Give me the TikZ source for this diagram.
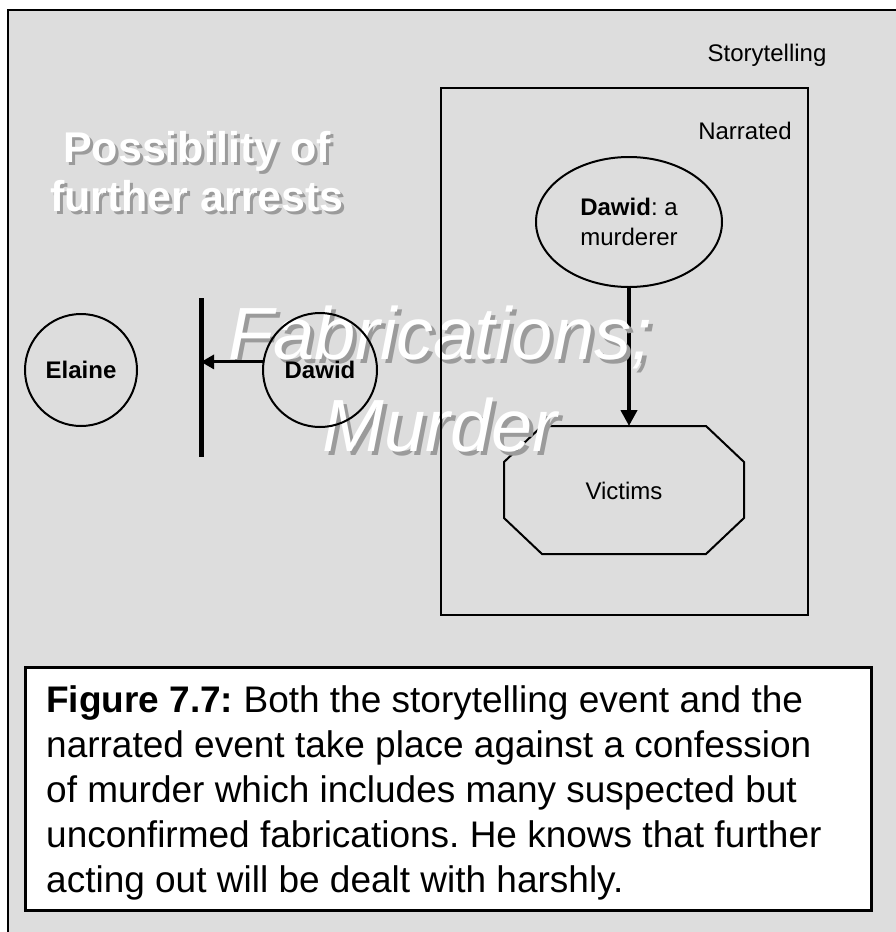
\documentclass[tikz,border=0pt]{standalone}
\usepackage{fontspec}
\setmainfont{Liberation Sans}
\usetikzlibrary{arrows.meta,shapes.geometric}
\definecolor{bg}{RGB}{221,221,221}
\definecolor{shade}{RGB}{155,155,155}
\frenchspacing
\begin{document}
\begin{tikzpicture}[x=1pt,y=-1pt,
  lbl/.style={font=\fontsize{24}{30}\selectfont, align=center, inner sep=0},
  person/.style={circle, draw, line width=2pt, inner sep=0, font=\fontsize{24}{30}\selectfont\bfseries},
  outl/.style={draw, line width=2pt},
  conn/.style={line width=3pt, -{Triangle[length=13pt,width=14pt]}},
  bigconn/.style={line width=4.5pt, -{Triangle[length=16pt,width=16pt]}},
  shadowtext/.style={text=shade, inner sep=0, align=center},
  whitetext/.style={text=white, inner sep=0, align=center}]
\useasboundingbox (0,0) rectangle (896,932);
\clip (0,0) rectangle (896,932);
\fill[white] (0,0) rectangle (896,932);
% outer storytelling frame
\draw[line width=2.5pt, fill=bg] (8,10) rectangle (920,960);
\node[lbl] (story) at (767,55) {Storytelling};

% octagon (victims)
\coordinate (octtop) at (624,426);
\draw[outl] (542,426) -- (706,426) -- (744,462) -- (744,518) -- (706,554) -- (542,554) -- (504,518) -- (504,462) -- cycle;
\node[lbl] (victims) at (624,491) {Victims};

% ellipse
\node[ellipse, outl, minimum width=186pt, minimum height=130pt, inner sep=0,
      font=\fontsize{24}{30}\selectfont, align=center] (dm) at (629,222) {\textbf{Dawid}: a\\murderer};
\draw[bigconn] (dm.south) -- (dm.south |- octtop);

% background texts with shadow
\node[shadowtext, font=\fontsize{43}{49}\selectfont\bfseries] at (200,175) {Possibility of\\further arrests};
\node[whitetext, font=\fontsize{43}{49}\selectfont\bfseries] (poss) at (197,172) {Possibility of\\further arrests};
\node[shadowtext, font=\fontsize{74}{92}\selectfont\itshape] at (444,383) {Fabrications;\\Murder};
\node[whitetext, font=\fontsize{74}{92}\selectfont\itshape] (fab) at (440,379) {Fabrications;\\Murder};

% narrated box
\node[outl, minimum width=367pt, minimum height=527pt, inner sep=0] (narbox) at (624.5,351.5) {};
\node[lbl] (narr) at (745,131) {Narrated};

% people
\node[person, minimum size=112pt] (elaine) at (81,370) {Elaine};
\node[person, minimum size=114pt] (dawid) at (320,370) {Dawid};
\coordinate (bartop) at (201,298);
\coordinate (barbot) at (201,457);
\draw[line width=5pt] (bartop) -- (barbot);
\draw[conn] (dawid.172) -- (dawid.172 -| bartop);

% caption
\node[draw, line width=3pt, fill=white, minimum width=846pt, minimum height=243pt, inner sep=0] (capbox) at (448,788.5) {};
\node[anchor=north west, align=left, inner sep=0, font=\fontsize{37}{45}\selectfont] (cap) at (46,685)
{\textbf{Figure 7.7:} Both the storytelling event and the\\
narrated event take place against a confession\\
of murder which includes many suspected but\\
unconfirmed fabrications. He knows that further\\
acting out will be dealt with harshly.};
\end{tikzpicture}
\end{document}
